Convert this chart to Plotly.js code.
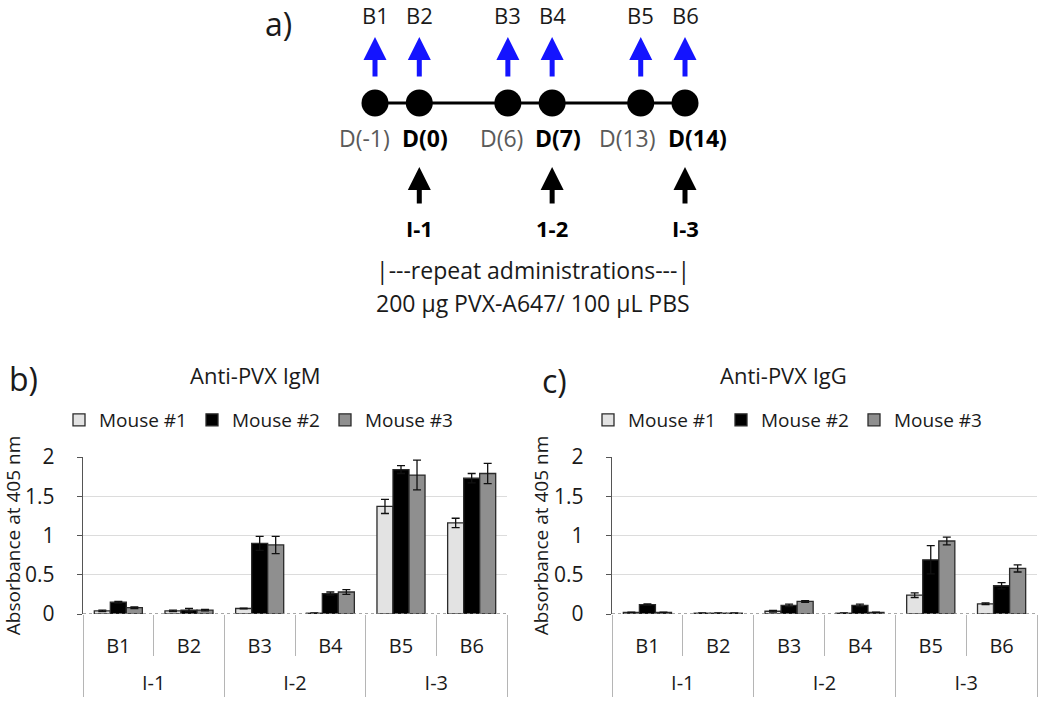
<!DOCTYPE html>
<html><head><meta charset="utf-8">
<script src="https://cdn.plot.ly/plotly-3.0.1.min.js"></script>
<style>html,body{margin:0;padding:0;background:#fff}</style>
</head><body><div id="chart" style="width:1050px;height:705px"></div>
<script>
// ---------- data ----------
const bleeds = ['B1','B2','B3','B4','B5','B6'];
const injections = ['I-1','I-1','I-2','I-2','I-3','I-3'];
const mice = ['Mouse #1','Mouse #2','Mouse #3'];
const igm1 = [0.04,0.04,0.07,0.01,1.37,1.16];
const igm2 = [0.15,0.05,0.90,0.26,1.84,1.73];
const igm3 = [0.08,0.05,0.88,0.28,1.77,1.79];
const igmErr1 = [0.01,0.01,0.005,0.005,0.09,0.06];
const igmErr2 = [0.01,0.02,0.09,0.02,0.05,0.06];
const igmErr3 = [0.01,0.01,0.11,0.03,0.19,0.13];
const igg1 = [0.02,0.01,0.035,0.01,0.24,0.13];
const igg2 = [0.12,0.01,0.11,0.11,0.69,0.36];
const igg3 = [0.02,0.01,0.16,0.02,0.93,0.58];
const iggErr1 = [0.005,0.003,0.01,0.003,0.03,0.01];
const iggErr2 = [0.01,0.003,0.015,0.015,0.18,0.04];
const iggErr3 = [0.005,0.003,0.01,0.005,0.05,0.045];
const dayLabels = ['D(-1)','D(0)','D(6)','D(7)','D(13)','D(14)'];
const injectIndex = [1,3,5];           // which timeline points are injections
const injectLabels = ['I-1','1-2','I-3'];

// ---------- helpers ----------
const W = 1050, H = 705;
const FONT = 'Open Sans, sans-serif';
const px = v => v / W;
const py = v => 1 - v / H;
const mouseColors = ['#e3e3e3', '#000000', '#8f8f8f'];
const xcat = [injections.map(g => '<br>' + g), bleeds];

function barTrace(name, y, err, i, xa, ya, legend, showleg) {
  return {
    type: 'bar', name: name, x: xcat, y: y, xaxis: xa, yaxis: ya,
    legend: legend, showlegend: showleg,
    marker: {color: mouseColors[i], line: {color: '#2b2b2b', width: 1.3}},
    error_y: {type: 'data', array: err, visible: true, color: '#111', thickness: 1.3, width: 4},
    hoverinfo: 'none'
  };
}

const traces = [
  barTrace(mice[0], igm1, igmErr1, 0, 'x', 'y', 'legend', true),
  barTrace(mice[1], igm2, igmErr2, 1, 'x', 'y', 'legend', true),
  barTrace(mice[2], igm3, igmErr3, 2, 'x', 'y', 'legend', true),
  barTrace(mice[0], igg1, iggErr1, 0, 'x2', 'y2', 'legend2', true),
  barTrace(mice[1], igg2, iggErr2, 1, 'x2', 'y2', 'legend2', true),
  barTrace(mice[2], igg3, iggErr3, 2, 'x2', 'y2', 'legend2', true)
];

// timeline schematic (panel a)
const tlPos = dayLabels.map((d, i) => i + Math.floor(i / 2));
const tlY = 103;
traces.push({
  type: 'scatter', mode: 'lines+markers', x: tlPos, y: tlPos.map(() => tlY),
  xaxis: 'x3', yaxis: 'y3', showlegend: false, hoverinfo: 'none',
  line: {color: '#000', width: 3},
  marker: {color: '#000', size: 27}
});

function xAxisCfg(l, r, ya) {
  return {
    domain: [px(l), px(r)], anchor: ya, type: 'multicategory',
    showdividers: true, dividercolor: '#b5b5b5', dividerwidth: 1,
    tickson: 'boundaries', ticks: 'outside', ticklen: 41, tickcolor: '#b5b5b5', tickwidth: 1,
    ticklabelstandoff: 18,
    tickfont: {family: FONT, size: 20, color: '#1a1a1a'},
    showline: false, showgrid: false, zeroline: false, fixedrange: true
  };
}
function yAxisCfg(xa) {
  return {
    domain: [py(614), py(457)], anchor: xa, range: [0, 2], dtick: 0.5,
    showgrid: true, gridcolor: '#dcdcdc', gridwidth: 1.3,
    showline: true, linecolor: '#555', linewidth: 1.3,
    ticks: 'outside', ticklen: 5, tickcolor: '#555', ticklabelstandoff: 18,
    tickfont: {family: FONT, size: 21, color: '#1a1a1a'},
    zeroline: false, fixedrange: true,
    title: {text: 'Absorbance at 405 nm', font: {family: FONT, size: 19, color: '#1a1a1a'}, standoff: 0}
  };
}

const annotations = [];
function txt(x, y, t, size, opts) {
  annotations.push(Object.assign({
    xref: 'paper', yref: 'paper', x: px(x), y: py(y), text: t, showarrow: false,
    font: {family: FONT, size: size, color: '#1a1a1a'}, xanchor: 'center', yanchor: 'middle'
  }, opts || {}));
}
// panel letters & titles
txt(278, 23, 'a)', 32);
txt(23, 378, 'b)', 32);
txt(554, 380, 'c)', 32);
txt(255, 375, 'Anti-PVX IgM', 22);
txt(783, 375, 'Anti-PVX IgG', 22);
txt(533, 270, '|---repeat administrations---|', 23);
txt(533, 303, '200 µg PVX-A647/ 100 µL PBS', 23);

// schematic labels / arrows, placed on the timeline axis
bleeds.forEach((b, i) => {
  annotations.push({xref: 'x3', yref: 'y3', x: tlPos[i], y: 15, text: b, showarrow: false,
    font: {family: FONT, size: 22, color: '#1a1a1a'}});
  annotations.push({xref: 'x3', yref: 'y3', x: tlPos[i], y: 37, text: '', showarrow: true,
    ax: 0, ay: 41, arrowhead: 2, arrowsize: 0.92, arrowwidth: 5, arrowcolor: '#1414ff', standoff: 0});
  const first = i % 2 === 0;
  const inj = injectIndex.indexOf(i) >= 0;
  annotations.push({xref: 'x3', yref: 'y3', x: tlPos[i], y: 138,
    text: inj ? '<b>' + dayLabels[i] + '</b>' : dayLabels[i], showarrow: false,
    xanchor: first ? 'right' : 'left', xshift: first ? 17 : -19,
    font: {family: FONT, size: 23, color: inj ? '#000' : '#5a5a5a'}});
});
injectIndex.forEach((k, j) => {
  annotations.push({xref: 'x3', yref: 'y3', x: tlPos[k], y: 167, text: '', showarrow: true,
    ax: 0, ay: 38, arrowhead: 2, arrowsize: 0.92, arrowwidth: 5, arrowcolor: '#000', standoff: 0});
  annotations.push({xref: 'x3', yref: 'y3', x: tlPos[k], y: 228, text: '<b>' + injectLabels[j] + '</b>',
    showarrow: false, font: {family: FONT, size: 22, color: '#000'}});
});

const shapes = [
  {type: 'line', xref: 'x domain', yref: 'y', x0: 0, x1: 1, y0: 0, y1: 0, line: {color: '#8a8a8a', width: 1.5, dash: 'dot'}},
  {type: 'line', xref: 'x2 domain', yref: 'y2', x0: 0, x1: 1, y0: 0, y1: 0, line: {color: '#8a8a8a', width: 1.5, dash: 'dot'}}
];

const legendCfg = (x) => ({
  orientation: 'h', x: px(x), y: py(420), xanchor: 'left', yanchor: 'middle',
  font: {family: FONT, size: 19, color: '#1a1a1a'}, bgcolor: 'rgba(0,0,0,0)',
  entrywidth: 88, entrywidthmode: 'pixels', itemclick: false, itemdoubleclick: false
});

const layout = {
  width: W, height: H, margin: {l: 0, r: 0, t: 0, b: 0},
  paper_bgcolor: '#fff', plot_bgcolor: 'rgba(0,0,0,0)',
  font: {family: FONT, color: '#1a1a1a'},
  barmode: 'group', bargap: 0.32, bargroupgap: 0,
  xaxis: xAxisCfg(83, 507, 'y'),
  yaxis: yAxisCfg('x'),
  xaxis2: xAxisCfg(612, 1037, 'y2'),
  yaxis2: yAxisCfg('x2'),
  xaxis3: {domain: [0, 1], anchor: 'y3', range: [-375 / 44.286, (W - 375) / 44.286], visible: false, fixedrange: true},
  yaxis3: {domain: [0, 1], anchor: 'x3', range: [H, 0], visible: false, fixedrange: true},
  legend: legendCfg(59),
  legend2: legendCfg(588),
  annotations: annotations,
  shapes: shapes,
  showlegend: true
};

Plotly.newPlot('chart', traces, layout, {staticPlot: true, displayModeBar: false});
</script>
</body></html>
